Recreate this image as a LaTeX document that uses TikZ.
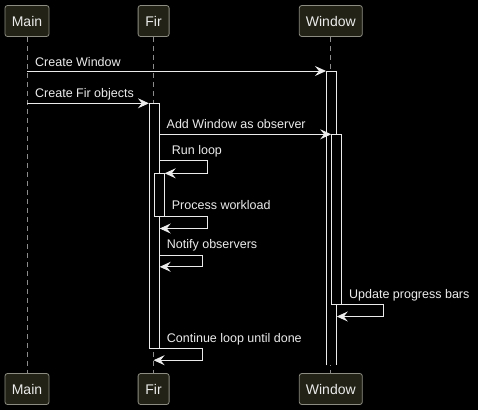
\documentclass[tikz,border=0pt]{standalone}
\usepackage{fontspec}
\setmainfont{Liberation Sans}
\usetikzlibrary{arrows.meta,calc}
\definecolor{boxfill}{RGB}{34,34,22}
\definecolor{boxline}{RGB}{140,140,130}
\definecolor{fg}{RGB}{235,235,235}
\definecolor{life}{RGB}{140,140,140}
\begin{document}
\begin{tikzpicture}[x=1pt,y=-1pt,
 part/.style={draw=boxline, fill=boxfill, rounded corners=2.5pt, minimum height=31pt, inner sep=0pt, text=fg, font=\fontsize{14}{16}\selectfont, line width=0.8pt},
 lifeline/.style={draw=life, dash pattern=on 5pt off 4pt, line width=0.8pt},
 act/.style={draw=fg, fill=black, minimum width=10pt, inner sep=0pt, anchor=north, line width=0.8pt},
 openact/.style={act, draw=none},
 msg/.style={draw=fg, line width=0.9pt, -{Stealth[length=11pt,width=10pt,inset=4pt]}},
 lbl/.style={text=fg, font=\fontsize{12.5}{14}\selectfont, anchor=base west, inner sep=0pt}]
\fill[black] (0,0) rectangle (478,410);
\useasboundingbox (0,0) rectangle (478,410);
% participants
\node[part, minimum width=44pt] (mt) at (27,21) {Main};
\node[part, minimum width=31pt] (ft) at (153.6,21) {Fir};
\node[part, minimum width=63pt] (wt) at (330.8,21) {Window};
\node[part, minimum width=44pt] (mb) at (27,389) {Main};
\node[part, minimum width=31pt] (fb) at (153.6,389) {Fir};
\node[part, minimum width=63pt] (wb) at (330.8,389) {Window};
% lifelines
\draw[lifeline] (mt.south) -- (mb.north);
\draw[lifeline] (ft.south) -- (fb.north);
\draw[lifeline] (wt.south) -- (wb.north);
% activation bars
\node[openact, minimum height=293.5pt] (w1) at (331.4,71) {};
\draw[draw=fg, line width=0.8pt] (w1.south west) -- (w1.north west) -- (w1.north east) -- (w1.south east);
\node[act, minimum height=244.4pt] (f1) at (154.3,103.3) {};
\node[act, minimum height=169.4pt] (w2) at (336.6,134.3) {};
\node[act, minimum height=42.7pt] (f2) at (159.3,173.3) {};
% messages
\draw[msg] (mt |- w1.north west) -- (w1.north west);
\node[lbl] (l1) at (35,66) {Create Window};
\draw[msg] (mt |- f1.north west) -- (f1.north west);
\node[lbl] (l2) at (35,97.8) {Create Fir objects};
\draw[msg] (f1.east |- w2.north west) -- (w2.north west);
\node[lbl] (l3) at (166.5,128.8) {Add Window as observer};
\draw[msg] (f1.east |- f2.north) ++(0,-13.3) -- ++(47.4,0) -- ++(0,13.3) -- (f2.north east);
\node[lbl] (l4) at (171.7,154.5) {Run loop};
\draw[msg] (f2.south east) -- ++(42.4,0) -- ++(0,11.7) -- ($(f1.east |- f2.south)+(0,11.7)$);
\node[lbl] (l5) at (171.7,209.3) {Process workload};
\draw[msg] ($(f1.east |- f2.south)+(0,38.3)$) -- ++(42.4,0) -- ++(0,11.7) -- ++(-42.4,0);
\node[lbl] (l6) at (166.7,248.8) {Notify observers};
\draw[msg] (w2.south east) -- ++(41.8,0) -- ++(0,12) -- ($(w1.east |- w2.south)+(0,12)$);
\node[lbl] (l7) at (349,298) {Update progress bars};
\draw[msg] (f1.south east) -- ++(42.4,0) -- ++(0,11.7) -- ($(ft.south |- f1.south)+(0,11.7)$);
\node[lbl] (l8) at (166.7,342.2) {Continue loop until done};
\end{tikzpicture}
\end{document}
